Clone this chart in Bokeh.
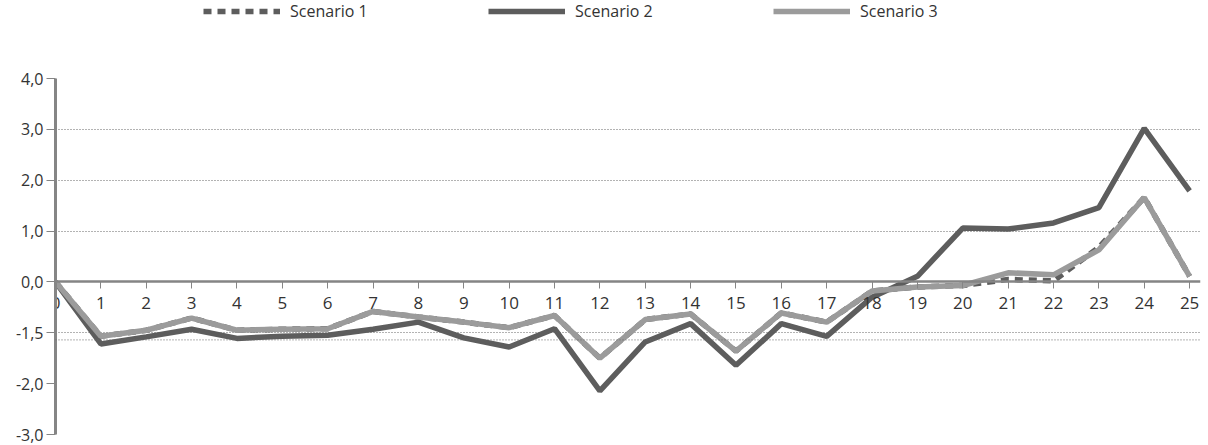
from bokeh.plotting import figure
from bokeh.layouts import column
from bokeh.models import (Range1d, FixedTicker, LinearAxis, Legend, LegendItem, Span)
from bokeh.embed import file_html
from bokeh.resources import INLINE

# ---- data ----
periods = list(range(26))
period_labels = [str(i) for i in periods]
scenario1 = [0, -1.07, -0.95, -0.71, -0.95, -0.93, -0.92, -0.58, -0.69, -0.79, -0.90, -0.66,
             -1.50, -0.74, -0.63, -1.36, -0.61, -0.79, -0.18, -0.10, -0.07, 0.05, 0.02, 0.68,
             1.66, 0.11]
scenario2 = [0, -1.22, -1.08, -0.93, -1.11, -1.07, -1.05, -0.93, -0.79, -1.10, -1.28, -0.92,
             -2.14, -1.18, -0.82, -1.64, -0.82, -1.07, -0.30, 0.11, 1.06, 1.04, 1.16, 1.46,
             3.02, 1.79]
scenario3 = [0, -1.07, -0.95, -0.71, -0.95, -0.93, -0.92, -0.58, -0.69, -0.79, -0.90, -0.66,
             -1.50, -0.74, -0.63, -1.36, -0.61, -0.79, -0.18, -0.10, -0.07, 0.18, 0.14, 0.63,
             1.66, 0.11]
y_ticks = [-3, -2, -1, 0, 1, 2, 3, 4]
y_tick_labels = ["-3,0", "-2,0", "-1,5", "0,0", "1,0", "2,0", "3,0", "4,0"]
grid_levels = [-3, -1, 1, 2, 3, 4]
extra_grid_level = -1.14
series_names = ["Scenario 1", "Scenario 2", "Scenario 3"]

DARK = "#5d5d5d"
LIGHT = "#9b9b9b"
AXIS = "#858585"
FONT = "Open Sans"
LW = 5.5
DASH = "8 6"

# ---- main chart ----
p = figure(width=1203, height=415, output_backend="svg", toolbar_location=None,
           x_range=Range1d(0, 25.24), y_range=Range1d(-3, 4),
           min_border_left=55, min_border_right=3, min_border_top=48, min_border_bottom=11,
           x_axis_location=None, y_axis_location=None)
p.outline_line_color = None
p.background_fill_color = "white"

xaxis = LinearAxis(ticker=FixedTicker(ticks=periods), fixed_location=0)
xaxis.major_label_overrides = {i: lab for i, lab in zip(periods, period_labels)}
xaxis.axis_line_color = AXIS
xaxis.axis_line_width = 2.5
xaxis.major_tick_line_color = AXIS
xaxis.major_tick_line_width = 1
xaxis.major_tick_in = 0
xaxis.major_tick_out = 7
xaxis.minor_tick_line_color = None
xaxis.major_label_text_font = FONT
xaxis.major_label_text_font_size = "17px"
xaxis.major_label_text_color = "#333333"
xaxis.major_label_standoff = 8
p.add_layout(xaxis, "below")

yaxis = LinearAxis(ticker=FixedTicker(ticks=y_ticks))
yaxis.major_label_overrides = {t: lab for t, lab in zip(y_ticks, y_tick_labels)}
yaxis.axis_line_color = AXIS
yaxis.axis_line_width = 3
yaxis.major_tick_line_color = AXIS
yaxis.major_tick_line_width = 1.2
yaxis.major_tick_in = 0
yaxis.major_tick_out = 9
yaxis.minor_tick_line_color = None
yaxis.major_label_text_font = FONT
yaxis.major_label_text_font_size = "16px"
yaxis.major_label_text_color = "#333333"
yaxis.major_label_standoff = 3
p.add_layout(yaxis, "left")

p.xgrid.visible = False
p.ygrid.ticker = FixedTicker(ticks=grid_levels)
p.ygrid.grid_line_color = "#666666"
p.ygrid.grid_line_dash = "1 2"
p.ygrid.grid_line_width = 1

p.add_layout(Span(location=extra_grid_level, dimension="width", line_color="#666666",
                  line_dash="1 2", line_width=1))

p.line(periods, scenario1, line_color=DARK, line_width=LW, line_dash=DASH)
p.line(periods, scenario2, line_color=DARK, line_width=LW)
p.line(periods, scenario3, line_color=LIGHT, line_width=LW)

# ---- legend strip (same series, drawn outside its visible range; only the key shows) ----
lg = figure(width=1203, height=30, output_backend="svg", toolbar_location=None,
            x_range=Range1d(100, 101), y_range=Range1d(100, 101),
            min_border=0, x_axis_location=None, y_axis_location=None)
lg.outline_line_color = None
lg.xgrid.visible = False
lg.ygrid.visible = False
k1 = lg.line(periods, scenario1, line_color=DARK, line_width=LW, line_dash=DASH)
k2 = lg.line(periods, scenario2, line_color=DARK, line_width=LW)
k3 = lg.line(periods, scenario3, line_color=LIGHT, line_width=LW)

legend = Legend(items=[LegendItem(label=series_names[0], renderers=[k1]),
                       LegendItem(label=series_names[1], renderers=[k2]),
                       LegendItem(label=series_names[2], renderers=[k3])],
                orientation="horizontal", location=(148, 8), padding=0, margin=0,
                spacing=98, glyph_width=77, glyph_height=14, label_standoff=10,
                label_width=100, label_height=14, label_text_font=FONT,
                label_text_font_size="16px", label_text_color="#333333",
                border_line_color=None, background_fill_alpha=0)
lg.add_layout(legend)

open("out.html", "w").write(file_html(column(lg, p, spacing=0), INLINE))
